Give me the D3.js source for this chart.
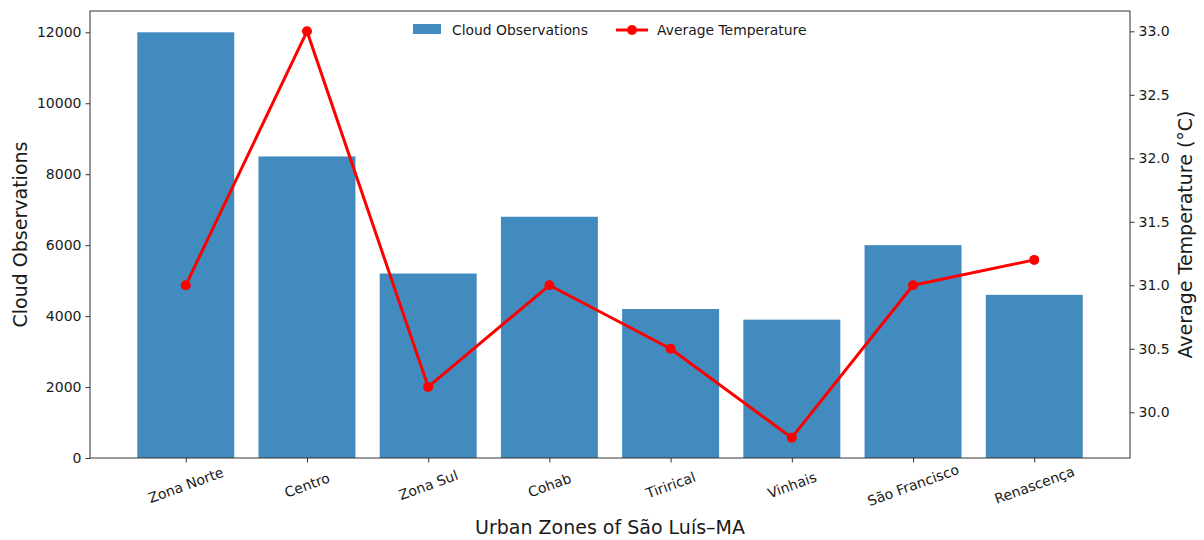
<!DOCTYPE html>
<html>
<head>
<meta charset="utf-8">
<script src="https://cdn.jsdelivr.net/npm/d3@7"></script>
<style>
body{margin:0;background:#fff;}
text{font-family:"DejaVu Sans",sans-serif;fill:#1a1a1a;}
</style>
</head>
<body>
<svg id="chart" width="1204" height="540"></svg>
<script>
const categories = ["Zona Norte","Centro","Zona Sul","Cohab","Tirirical","Vinhais","São Francisco","Renascença"];
const cloudObservations = [12000, 8500, 5200, 6800, 4200, 3900, 6000, 4600];
const avgTemperature = [31.0, 33.0, 30.2, 31.0, 30.5, 29.8, 31.0, 31.2];
const leftTicks = [0,2000,4000,6000,8000,10000,12000];
const rightTicks = [30.0,30.5,31.0,31.5,32.0,32.5,33.0];

const svg = d3.select("#chart");
const L=90, R=1130, T=11, B=458;

const x = d3.scaleLinear().domain([-0.79, 7.79]).range([L, R]);
const yL = d3.scaleLinear().domain([0, 12600]).range([B, T]);
const yR = d3.scaleLinear().domain([29.64, 33.16]).range([B, T]);
const bw = x(0.8) - x(0);

svg.selectAll("rect.bar").data(cloudObservations).enter().append("rect")
  .attr("class","bar")
  .attr("x",(d,i)=>x(i)-bw/2).attr("width",bw)
  .attr("y",d=>yL(d)).attr("height",d=>B-yL(d))
  .attr("fill","rgb(66,139,191)");

const line = d3.line().x((d,i)=>x(i)).y(d=>yR(d));
svg.append("path").datum(avgTemperature).attr("d",line)
  .attr("fill","none").attr("stroke","#ff0000").attr("stroke-width",3).attr("stroke-linejoin","round");
svg.selectAll("circle.pt").data(avgTemperature).enter().append("circle")
  .attr("cx",(d,i)=>x(i)).attr("cy",d=>yR(d)).attr("r",5).attr("fill","#ff0000");

// frame
svg.append("rect").attr("x",L).attr("y",T).attr("width",R-L).attr("height",B-T)
  .attr("fill","none").attr("stroke","#333").attr("stroke-width",1);

// axes
const axL = svg.append("g").attr("transform",`translate(${L},0)`)
  .call(d3.axisLeft(yL).tickValues(leftTicks).tickFormat(d3.format("d")).tickSize(4.5).tickPadding(4));
const axR = svg.append("g").attr("transform",`translate(${R},0)`)
  .call(d3.axisRight(yR).tickValues(rightTicks).tickFormat(d3.format(".1f")).tickSize(4.5).tickPadding(4));
const axB = svg.append("g").attr("transform",`translate(0,${B})`)
  .call(d3.axisBottom(d3.scaleOrdinal().domain(categories).range(categories.map((c,i)=>x(i)))).tickSize(4.5).tickPadding(4));
[axL,axR,axB].forEach(a=>{
  a.select(".domain").remove();
  a.selectAll("line").attr("stroke","#333");
  a.selectAll("text").style("font-family","DejaVu Sans").style("font-size","14px").attr("fill","#1a1a1a");
});
axB.selectAll("text")
  .attr("text-anchor","middle")
  .each(function(){
    d3.select(this).attr("y",null).attr("dy",null).attr("x",null)
     .attr("transform",`translate(0,28) rotate(-20)`)
     .attr("dominant-baseline","middle");
  });

// axis labels
svg.append("text").attr("x",(L+R)/2).attr("y",534).attr("text-anchor","middle")
  .style("font-size","19px").text("Urban Zones of São Luís–MA");
svg.append("text").attr("transform",`translate(27,${(T+B)/2}) rotate(-90)`).attr("text-anchor","middle")
  .style("font-size","19px").text("Cloud Observations");
svg.append("text").attr("transform",`translate(1192,${(T+B)/2}) rotate(-90)`).attr("text-anchor","middle")
  .style("font-size","19px").text("Average Temperature (°C)");

// legend
const lg = svg.append("g");
lg.append("rect").attr("x",413).attr("y",24).attr("width",28).attr("height",10).attr("fill","rgb(66,139,191)");
lg.append("text").attr("x",452).attr("y",34.5).style("font-size","13.9px").text("Cloud Observations");
lg.append("line").attr("x1",616).attr("x2",648).attr("y1",30).attr("y2",30).attr("stroke","#ff0000").attr("stroke-width",3);
lg.append("circle").attr("cx",632).attr("cy",30).attr("r",5).attr("fill","#ff0000");
lg.append("text").attr("x",657).attr("y",34.5).style("font-size","13.9px").text("Average Temperature");
</script>
</body>
</html>
